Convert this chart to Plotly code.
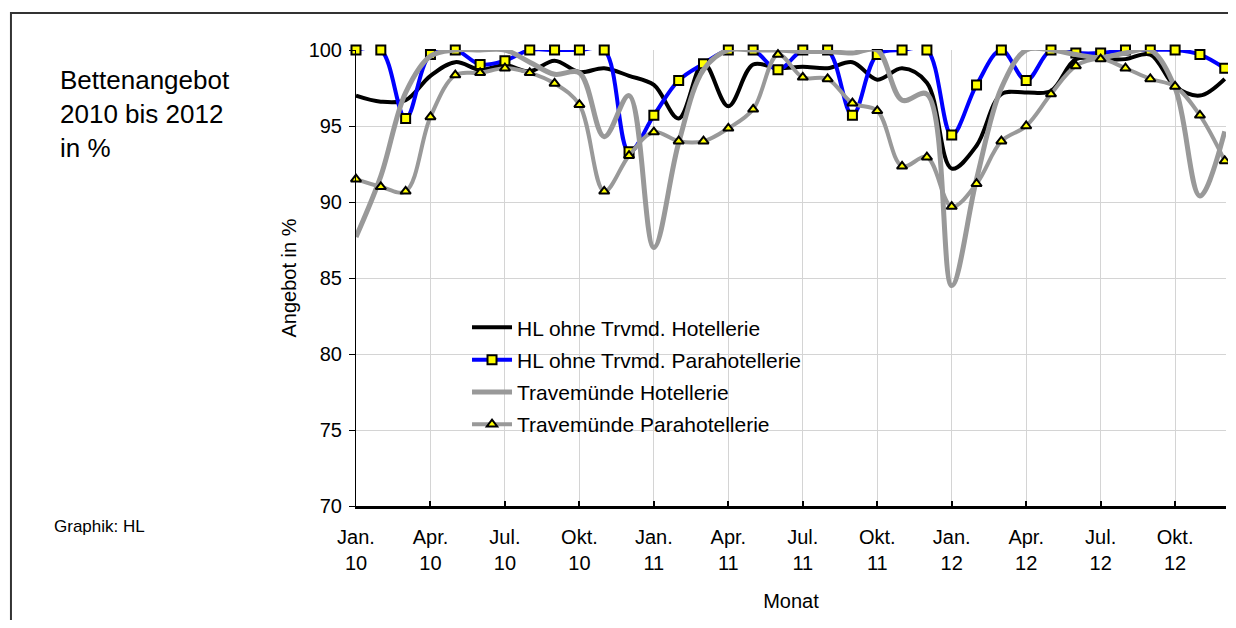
import plotly.graph_objects as go

month_names = ["Jan.", "Feb.", "Mär.", "Apr.", "Mai", "Jun.", "Jul.", "Aug.", "Sep.", "Okt.", "Nov.", "Dez."]
years = ["10", "11", "12"]
months = [f"{m} {y}" for y in years for m in month_names]

hl_hotel = [97.0, 96.6, 96.7, 98.3, 99.2, 98.7, 99.0, 98.6, 99.3, 98.55, 98.8, 98.3,
            97.7, 95.5, 99.15, 96.3, 99.05, 98.8, 98.9, 98.8, 99.2, 98.05, 98.8, 97.85,
            92.2, 93.7, 97.1, 97.2, 97.3, 99.4, 99.4, 99.4, 99.7, 97.6, 97.0, 98.1]
hl_para = [100, 100, 95.5, 99.7, 100, 99.05, 99.3, 100, 100, 100, 100, 93.3,
           95.7, 98.0, 99.1, 100, 100, 98.7, 100, 100, 95.7, 99.7, 100, 100,
           94.4, 97.7, 100, 98.0, 100, 99.8, 99.8, 100, 100, 100, 99.7, 98.8]
tv_hotel = [87.7, 91.7, 97.2, 99.6, 100, 100, 100, 99.2, 98.4, 98.5, 94.3, 97.0,
            87.0, 93.9, 98.7, 100, 100, 100, 99.9, 99.9, 99.8, 100, 96.7, 97.1,
            84.5, 91.5, 97.5, 100, 100, 99.7, 99.5, 99.8, 100, 97.5, 90.4, 94.65]
tv_para = [91.5, 91.0, 90.7, 95.6, 98.35, 98.5, 98.8, 98.5, 97.8, 96.4, 90.7, 93.05,
           94.6, 94.0, 94.0, 94.85, 96.1, 99.7, 98.2, 98.1, 96.5, 96.0, 92.35, 92.95,
           89.7, 91.2, 94.0, 95.0, 97.1, 98.95, 99.4, 98.8, 98.1, 97.6, 95.7, 92.7]

series_names = ["HL ohne Trvmd. Hotellerie", "HL ohne Trvmd. Parahotellerie",
                "Travemünde Hotellerie", "Travemünde Parahotellerie"]

tick_months = months[::3]
tick_text = [m.replace(" ", "<br>") for m in tick_months]

FONT = "Liberation Sans, Arial, sans-serif"

fig = go.Figure()
fig.add_trace(go.Scatter(x=months, y=hl_hotel, name=series_names[0], mode="lines",
                         line=dict(color="black", width=4, shape="spline", smoothing=1),
                         legendgroup="a", cliponaxis=False))
fig.add_trace(go.Scatter(x=months, y=hl_para, name=series_names[1], mode="lines+markers",
                         line=dict(color="#0000FF", width=4, shape="spline", smoothing=1),
                         marker=dict(symbol="square", size=9, color="#FFFF00",
                                     line=dict(color="black", width=2)),
                         legendgroup="b", cliponaxis=False))
fig.add_trace(go.Scatter(x=months, y=tv_hotel, name=series_names[2], mode="lines",
                         line=dict(color="#999999", width=5, shape="spline", smoothing=1),
                         legendgroup="c", cliponaxis=False))
fig.add_trace(go.Scatter(x=months, y=tv_para, name=series_names[3], mode="lines+markers",
                         line=dict(color="#999999", width=4, shape="spline", smoothing=1),
                         marker=dict(symbol="triangle-up", size=9, color="#FFFF00",
                                     line=dict(color="black", width=2)),
                         legendgroup="d", cliponaxis=False))

fig.update_layout(
    width=1220, height=612,
    margin=dict(l=348, r=2, t=42, b=114, autoexpand=False),
    paper_bgcolor="white", plot_bgcolor="white",
    font=dict(family=FONT, color="black", size=20),
    showlegend=True,
    legend=dict(x=0.1276, y=0.436, xanchor="left", yanchor="top",
                bgcolor="rgba(0,0,0,0)", font=dict(size=21, family=FONT),
                traceorder="grouped", tracegroupgap=2, itemwidth=40),
    xaxis=dict(type="category", range=[0, 35.05], tickmode="array",
               tickvals=tick_months, ticktext=tick_text,
               showgrid=True, gridcolor="#d4d4d4", gridwidth=1,
               showline=True, linecolor="black", linewidth=2.5,
               ticks="inside", ticklen=5, tickwidth=2, tickcolor="black",
               tickfont=dict(size=20, family=FONT), ticklabelstandoff=11,
               title=dict(text="Monat", font=dict(size=20, family=FONT), standoff=22)),
    yaxis=dict(range=[70, 100], dtick=5, tick0=70,
               showgrid=True, gridcolor="#d4d4d4", gridwidth=1, zeroline=False,
               showline=True, linecolor="black", linewidth=1,
               ticks="outside", ticklen=6, tickcolor="black", tickwidth=1,
               tickfont=dict(size=20, family=FONT), ticklabelstandoff=3,
               title=dict(text="Angebot in %", font=dict(size=20, family=FONT), standoff=6)),
    shapes=[dict(type="rect", xref="paper", yref="paper",
                 x0=-0.3966, x1=1.05, y0=-0.4, y1=1.081,
                 line=dict(color="#333333", width=2), fillcolor="rgba(0,0,0,0)",
                 layer="below")],
    annotations=[
        dict(text="Bettenangebot<br>2010 bis 2012<br>in %", xref="paper", yref="paper",
             x=-0.3425, y=0.972, xanchor="left", yanchor="top", align="left",
             showarrow=False, font=dict(size=26, family=FONT)),
        dict(text="Graphik: HL", xref="paper", yref="paper",
             x=-0.3494, y=-0.046, xanchor="left", yanchor="middle", align="left",
             showarrow=False, font=dict(size=17, family=FONT)),
    ],
)

fig.write_html("out.html")
